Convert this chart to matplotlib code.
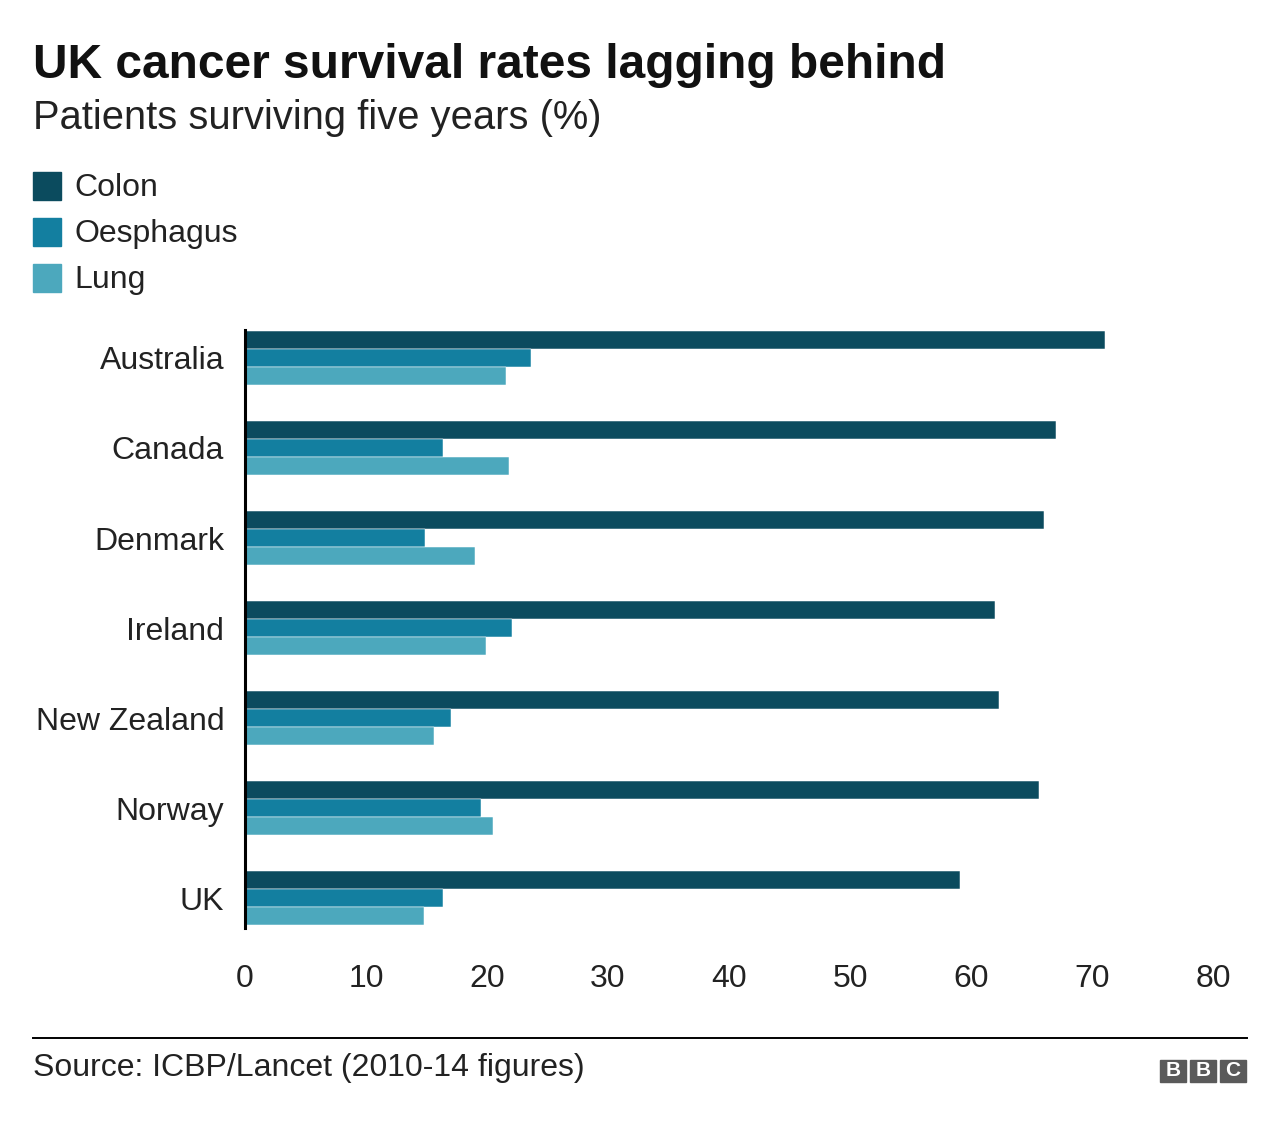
import matplotlib
matplotlib.use("Agg")
import matplotlib.pyplot as plt
from matplotlib.patches import Rectangle
from matplotlib.lines import Line2D
import numpy as np

countries = ["Australia", "Canada", "Denmark", "Ireland", "New Zealand", "Norway", "UK"]
colon = [71.1, 67.0, 66.0, 62.0, 62.3, 65.6, 59.1]
oesophagus = [23.6, 16.4, 14.9, 22.1, 17.0, 19.5, 16.4]
lung = [21.6, 21.8, 19.0, 19.9, 15.6, 20.5, 14.8]
series_names = ["Colon", "Oesphagus", "Lung"]
colors = ["#0b4b5e", "#137fa0", "#4ca8bd"]
xticks = [0, 10, 20, 30, 40, 50, 60, 70, 80]

W, H = 1280, 1126
plt.rcParams['font.family'] = ['Liberation Sans', 'DejaVu Sans']

fig = plt.figure(figsize=(W / 100, H / 100), dpi=100)


def fx(px):
    return px / W


def fy(py):
    return 1 - py / H


# titles
fig.text(fx(33), fy(78), "UK cancer survival rates lagging behind", fontsize=34.5,
         fontweight='bold', va='baseline', ha='left', color='#111111')
fig.text(fx(33), fy(129), "Patients surviving five years (%)", fontsize=28.7,
         va='baseline', ha='left', color='#222222')

# legend
for i, (name, c) in enumerate(zip(series_names, colors)):
    cy = 186 + i * 46
    fig.add_artist(Rectangle((fx(33), fy(cy + 14)), fx(28), 28 / H,
                             transform=fig.transFigure, color=c))
    fig.text(fx(74), fy(cy + 2), name, fontsize=23, va='center', ha='left', color='#222222')

# main axes
ax = fig.add_axes([fx(245), fy(928), fx(1213) - fx(245), (928 - 330) / H])
y = np.arange(len(countries))
h = 0.2
for offs, vals, c in zip([-h, 0, h], [colon, oesophagus, lung], colors):
    ax.barh(y + offs, vals, height=h, color=c, edgecolor='white', linewidth=0.35)

ax.set_xlim(0, 80)
ax.set_ylim(len(countries) - 1 + 0.33, -0.31)
ax.set_yticks(y)
ax.set_yticklabels(countries)
ax.set_xticks(xticks)
ax.tick_params(axis='y', length=0, pad=15, labelsize=23, labelcolor='#222222')
ax.tick_params(axis='x', length=0, pad=26, labelsize=23, labelcolor='#222222')
for s in ['top', 'right', 'bottom']:
    ax.spines[s].set_visible(False)
ax.spines['left'].set_linewidth(2.2)
ax.spines['left'].set_color('black')

# footer
fig.add_artist(Line2D([fx(33), fx(1247)], [fy(1038), fy(1038)],
                      transform=fig.transFigure, color='black', linewidth=1.4))
fig.text(fx(33), fy(1076), "Source: ICBP/Lancet (2010-14 figures)", fontsize=23,
         va='baseline', ha='left', color='#222222')

# BBC logo
for i, letter in enumerate("BBC"):
    x0 = 1160 + i * 30
    fig.add_artist(Rectangle((fx(x0), fy(1082)), fx(26), 22 / H,
                             transform=fig.transFigure, color='#5a5a5a'))
    fig.text(fx(x0 + 13), fy(1071), letter, fontsize=15, fontweight='bold',
             color='white', ha='center', va='center')

fig.savefig("out.png", dpi=100)
